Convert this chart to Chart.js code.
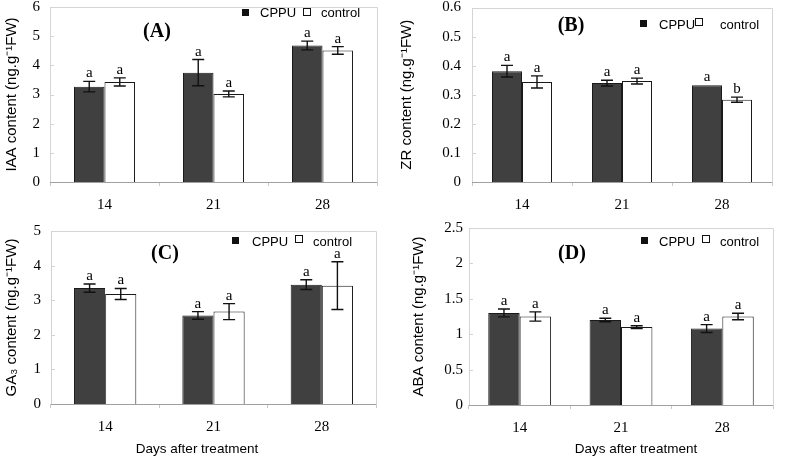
<!DOCTYPE html>
<html><head><meta charset="utf-8">
<script src="https://cdn.jsdelivr.net/npm/chart.js@4.4.1/dist/chart.umd.min.js"></script>
<style>
html,body{margin:0;padding:0;background:#fff;width:790px;height:459px;overflow:hidden;}
canvas{position:absolute;}
</style></head><body>
<canvas id="cA" width="395" height="230" style="left:0;top:0"></canvas>
<canvas id="cB" width="395" height="230" style="left:395px;top:0"></canvas>
<canvas id="cC" width="395" height="237" style="left:0;top:222px"></canvas>
<canvas id="cD" width="395" height="239" style="left:395px;top:220px"></canvas>
<script>
// ---- data ----
const days = ['14', '21', '28'];
const seriesNames = ['CPPU', 'control'];

const iaaCPPU = [3.27, 3.75, 4.68];
const iaaCPPUErr = [0.18, 0.45, 0.15];
const iaaCtrl = [3.43, 3.02, 4.51];
const iaaCtrlErr = [0.14, 0.10, 0.13];
const iaaCPPULetters = ['a', 'a', 'a'];
const iaaCtrlLetters = ['a', 'a', 'a'];

const zrCPPU = [0.381, 0.340, 0.333];
const zrCPPUErr = [0.020, 0.010, 0];
const zrCtrl = [0.344, 0.347, 0.283];
const zrCtrlErr = [0.021, 0.010, 0.009];
const zrCPPULetters = ['a', 'a', 'a'];
const zrCtrlLetters = ['a', 'a', 'b'];

const ga3CPPU = [3.35, 2.56, 3.45];
const ga3CPPUErr = [0.12, 0.11, 0.14];
const ga3Ctrl = [3.18, 2.67, 3.42];
const ga3CtrlErr = [0.16, 0.23, 0.69];
const ga3CPPULetters = ['a', 'a', 'a'];
const ga3CtrlLetters = ['a', 'a', 'a'];

const abaCPPU = [1.30, 1.20, 1.08];
const abaCPPUErr = [0.055, 0.025, 0.055];
const abaCtrl = [1.25, 1.10, 1.25];
const abaCtrlErr = [0.065, 0.02, 0.045];
const abaCPPULetters = ['a', 'a', 'a'];
const abaCtrlLetters = ['a', 'a', 'a'];

const yTicksA = [0, 1, 2, 3, 4, 5, 6];
const yTicksB = [0, 0.1, 0.2, 0.3, 0.4, 0.5, 0.6];
const yTicksC = [0, 1, 2, 3, 4, 5];
const yTicksD = [0, 0.5, 1, 1.5, 2, 2.5];

const SERIF = '"Liberation Serif", "Times New Roman", serif';
const SANS = '"Liberation Sans", Arial, sans-serif';

const panelPlugin = {
  id: 'panel',
  beforeDatasetsDraw(chart) {
    const ctx = chart.ctx, a = chart.chartArea, y = chart.scales.y;
    ctx.save();
    ctx.lineWidth = 1;
    ctx.strokeStyle = '#d4d4d4';
    ctx.beginPath();
    ctx.moveTo(Math.round(a.left) + 0.5, Math.round(a.bottom) + 0.5);
    ctx.lineTo(Math.round(a.left) + 0.5, Math.round(a.top) + 0.5);
    ctx.lineTo(Math.round(a.right) + 0.5, Math.round(a.top) + 0.5);
    ctx.lineTo(Math.round(a.right) + 0.5, Math.round(a.bottom) + 0.5);
    ctx.stroke();
    // inward y ticks
    y.ticks.forEach(t => {
      const py = Math.round(y.getPixelForValue(t.value)) + 0.5;
      ctx.beginPath();
      ctx.moveTo(a.left, py); ctx.lineTo(a.left + 4, py); ctx.stroke();
    });
    ctx.strokeStyle = '#a0a0a0';
    ctx.beginPath();
    ctx.moveTo(a.left, Math.round(a.bottom) + 0.5);
    ctx.lineTo(a.right, Math.round(a.bottom) + 0.5);
    ctx.stroke();
    ctx.restore();
  },
  afterDatasetsDraw(chart) {
    const ctx = chart.ctx, y = chart.scales.y;
    ctx.save();
    chart.data.datasets.forEach((ds, i) => {
      const meta = chart.getDatasetMeta(i);
      meta.data.forEach((bar, j) => {
        const v = ds.data[j], e = ds.errors[j];
        const yt = y.getPixelForValue(v + e), yb = y.getPixelForValue(v - e);
        if (e > 0) {
          ctx.strokeStyle = '#111';
          ctx.lineWidth = 1.4;
          ctx.beginPath();
          ctx.moveTo(bar.x, yt); ctx.lineTo(bar.x, yb);
          ctx.moveTo(bar.x - 6, yt); ctx.lineTo(bar.x + 6, yt);
          ctx.moveTo(bar.x - 6, yb); ctx.lineTo(bar.x + 6, yb);
          ctx.stroke();
        }
        ctx.fillStyle = '#000';
        ctx.font = '15px ' + SERIF;
        ctx.textAlign = 'center';
        ctx.textBaseline = 'alphabetic';
        ctx.fillText(ds.letters[j], bar.x, yt - 4);
      });
    });
    ctx.restore();
  },
  afterDraw(chart) {
    const p = chart.options.plugins.panel;
    const ctx = chart.ctx;
    ctx.save();
    // title
    ctx.fillStyle = '#000';
    ctx.font = 'bold 20px ' + SERIF;
    ctx.textAlign = 'center';
    ctx.textBaseline = 'middle';
    ctx.fillText(p.title, p.titleX, p.titleY);
    // legend
    const L = p.legend;
    ctx.fillStyle = '#111';
    ctx.fillRect(L.sq1x, L.sq1y, 7, 7);
    ctx.strokeStyle = '#111';
    ctx.lineWidth = 1;
    ctx.strokeRect(L.sq2x + 0.5, L.sq2y + 0.5, 7, 7);
    ctx.font = '13px ' + SANS;
    ctx.textAlign = 'left';
    ctx.textBaseline = 'middle';
    ctx.fillStyle = '#000';
    ctx.fillText(chart.data.datasets[0].label, L.t1x, L.ty);
    ctx.fillText(chart.data.datasets[1].label, L.t2x, L.ty);
    // x title
    if (p.xTitle) {
      ctx.font = '13.5px ' + SANS;
      ctx.textAlign = 'center';
      ctx.fillText(p.xTitle, p.xTitleX, p.xTitleY);
    }
    ctx.restore();
  }
};

function makeChart(id, opt) {
  const cv = document.getElementById(id);
  const W = cv.width, H = cv.height, A = opt.area;
  return new Chart(cv, {
    type: 'bar',
    data: {
      labels: days,
      datasets: [
        { label: seriesNames[0], data: opt.cppu, errors: opt.cppuErr, letters: opt.cppuLetters,
          backgroundColor: '#404040', borderColor: '#1a1a1a', borderWidth: 1 },
        { label: seriesNames[1], data: opt.ctrl, errors: opt.ctrlErr, letters: opt.ctrlLetters,
          backgroundColor: '#ffffff', borderColor: '#1a1a1a', borderWidth: 1 }
      ]
    },
    options: {
      responsive: false,
      animation: false,
      devicePixelRatio: 1,
      datasets: { bar: { barPercentage: 1, categoryPercentage: opt.catPct } },
      layout: { padding: { top: A.top, right: W - A.right, bottom: 0, left: 0 } },
      plugins: {
        legend: { display: false },
        tooltip: { enabled: false },
        panel: opt.panel
      },
      scales: {
        x: {
          grid: { display: true, drawOnChartArea: false, offset: true, tickLength: 4, color: '#c8c8c8' },
          border: { display: false },
          ticks: { font: { family: SERIF, size: 15 }, color: '#000', padding: 10 },
          afterFit(s) { s.height = H - A.bottom; s.paddingLeft = 0; s.paddingRight = 0; }
        },
        y: {
          min: opt.yTicks[0], max: opt.yTicks[opt.yTicks.length - 1],
          grid: { display: false, drawTicks: false },
          border: { display: false },
          ticks: { font: { family: SERIF, size: 15 }, color: '#000', padding: opt.yPad,
                   callback: v => String(v) },
          afterBuildTicks(s) { s.ticks = opt.yTicks.map(v => ({ value: v })); },
          title: { display: true, text: opt.yTitle, font: { family: SANS, size: 15 }, color: '#000',
                   padding: { top: opt.yTitlePad, bottom: 0 } },
          afterFit(s) { s.width = A.left; s.paddingTop = 0; s.paddingBottom = 0; }
        }
      }
    },
    plugins: [panelPlugin]
  });
}

makeChart('cA', {
  area: { left: 50, top: 7, right: 377, bottom: 182 },
  cppu: iaaCPPU, cppuErr: iaaCPPUErr, cppuLetters: iaaCPPULetters,
  ctrl: iaaCtrl, ctrlErr: iaaCtrlErr, ctrlLetters: iaaCtrlLetters,
  yTicks: yTicksA, yPad: 10, catPct: 0.56,
  yTitle: 'IAA content (ng.g\u207B\u00B9FW)', yTitlePad: 3,
  panel: { title: '(A)', titleX: 157, titleY: 32,
    legend: { sq1x: 242, sq1y: 9, sq2x: 303, sq2y: 8, t1x: 260, t2x: 321, ty: 13 } }
});
makeChart('cB', {
  area: { left: 77, top: 7.5, right: 377, bottom: 182 },
  cppu: zrCPPU, cppuErr: zrCPPUErr, cppuLetters: zrCPPULetters,
  ctrl: zrCtrl, ctrlErr: zrCtrlErr, ctrlLetters: zrCtrlLetters,
  yTicks: yTicksB, yPad: 11, catPct: 0.6,
  yTitle: 'ZR content (ng.g\u207B\u00B9FW)', yTitlePad: 3,
  panel: { title: '(B)', titleX: 176, titleY: 26,
    legend: { sq1x: 245, sq1y: 20, sq2x: 300, sq2y: 18, t1x: 264, t2x: 325, ty: 25 } }
});
makeChart('cC', {
  area: { left: 51, top: 9, right: 376, bottom: 182 },
  cppu: ga3CPPU, cppuErr: ga3CPPUErr, cppuLetters: ga3CPPULetters,
  ctrl: ga3Ctrl, ctrlErr: ga3CtrlErr, ctrlLetters: ga3CtrlLetters,
  yTicks: yTicksC, yPad: 10, catPct: 0.575,
  yTitle: 'GA\u2083 content (ng.g\u207B\u00B9FW)', yTitlePad: 3,
  panel: { title: '(C)', titleX: 165, titleY: 32,
    legend: { sq1x: 232, sq1y: 15, sq2x: 295, sq2y: 13, t1x: 252, t2x: 313, ty: 20 },
    xTitle: 'Days after treatment', xTitleX: 197, xTitleY: 227 }
});
makeChart('cD', {
  area: { left: 74, top: 8, right: 378, bottom: 185 },
  cppu: abaCPPU, cppuErr: abaCPPUErr, cppuLetters: abaCPPULetters,
  ctrl: abaCtrl, ctrlErr: abaCtrlErr, ctrlLetters: abaCtrlLetters,
  yTicks: yTicksD, yPad: 6, catPct: 0.62,
  yTitle: 'ABA content (ng.g\u207B\u00B9FW)', yTitlePad: 15,
  panel: { title: '(D)', titleX: 177, titleY: 34,
    legend: { sq1x: 246, sq1y: 17, sq2x: 307, sq2y: 15, t1x: 264, t2x: 325, ty: 22 },
    xTitle: 'Days after treatment', xTitleX: 241, xTitleY: 229 }
});
</script>
</body></html>
